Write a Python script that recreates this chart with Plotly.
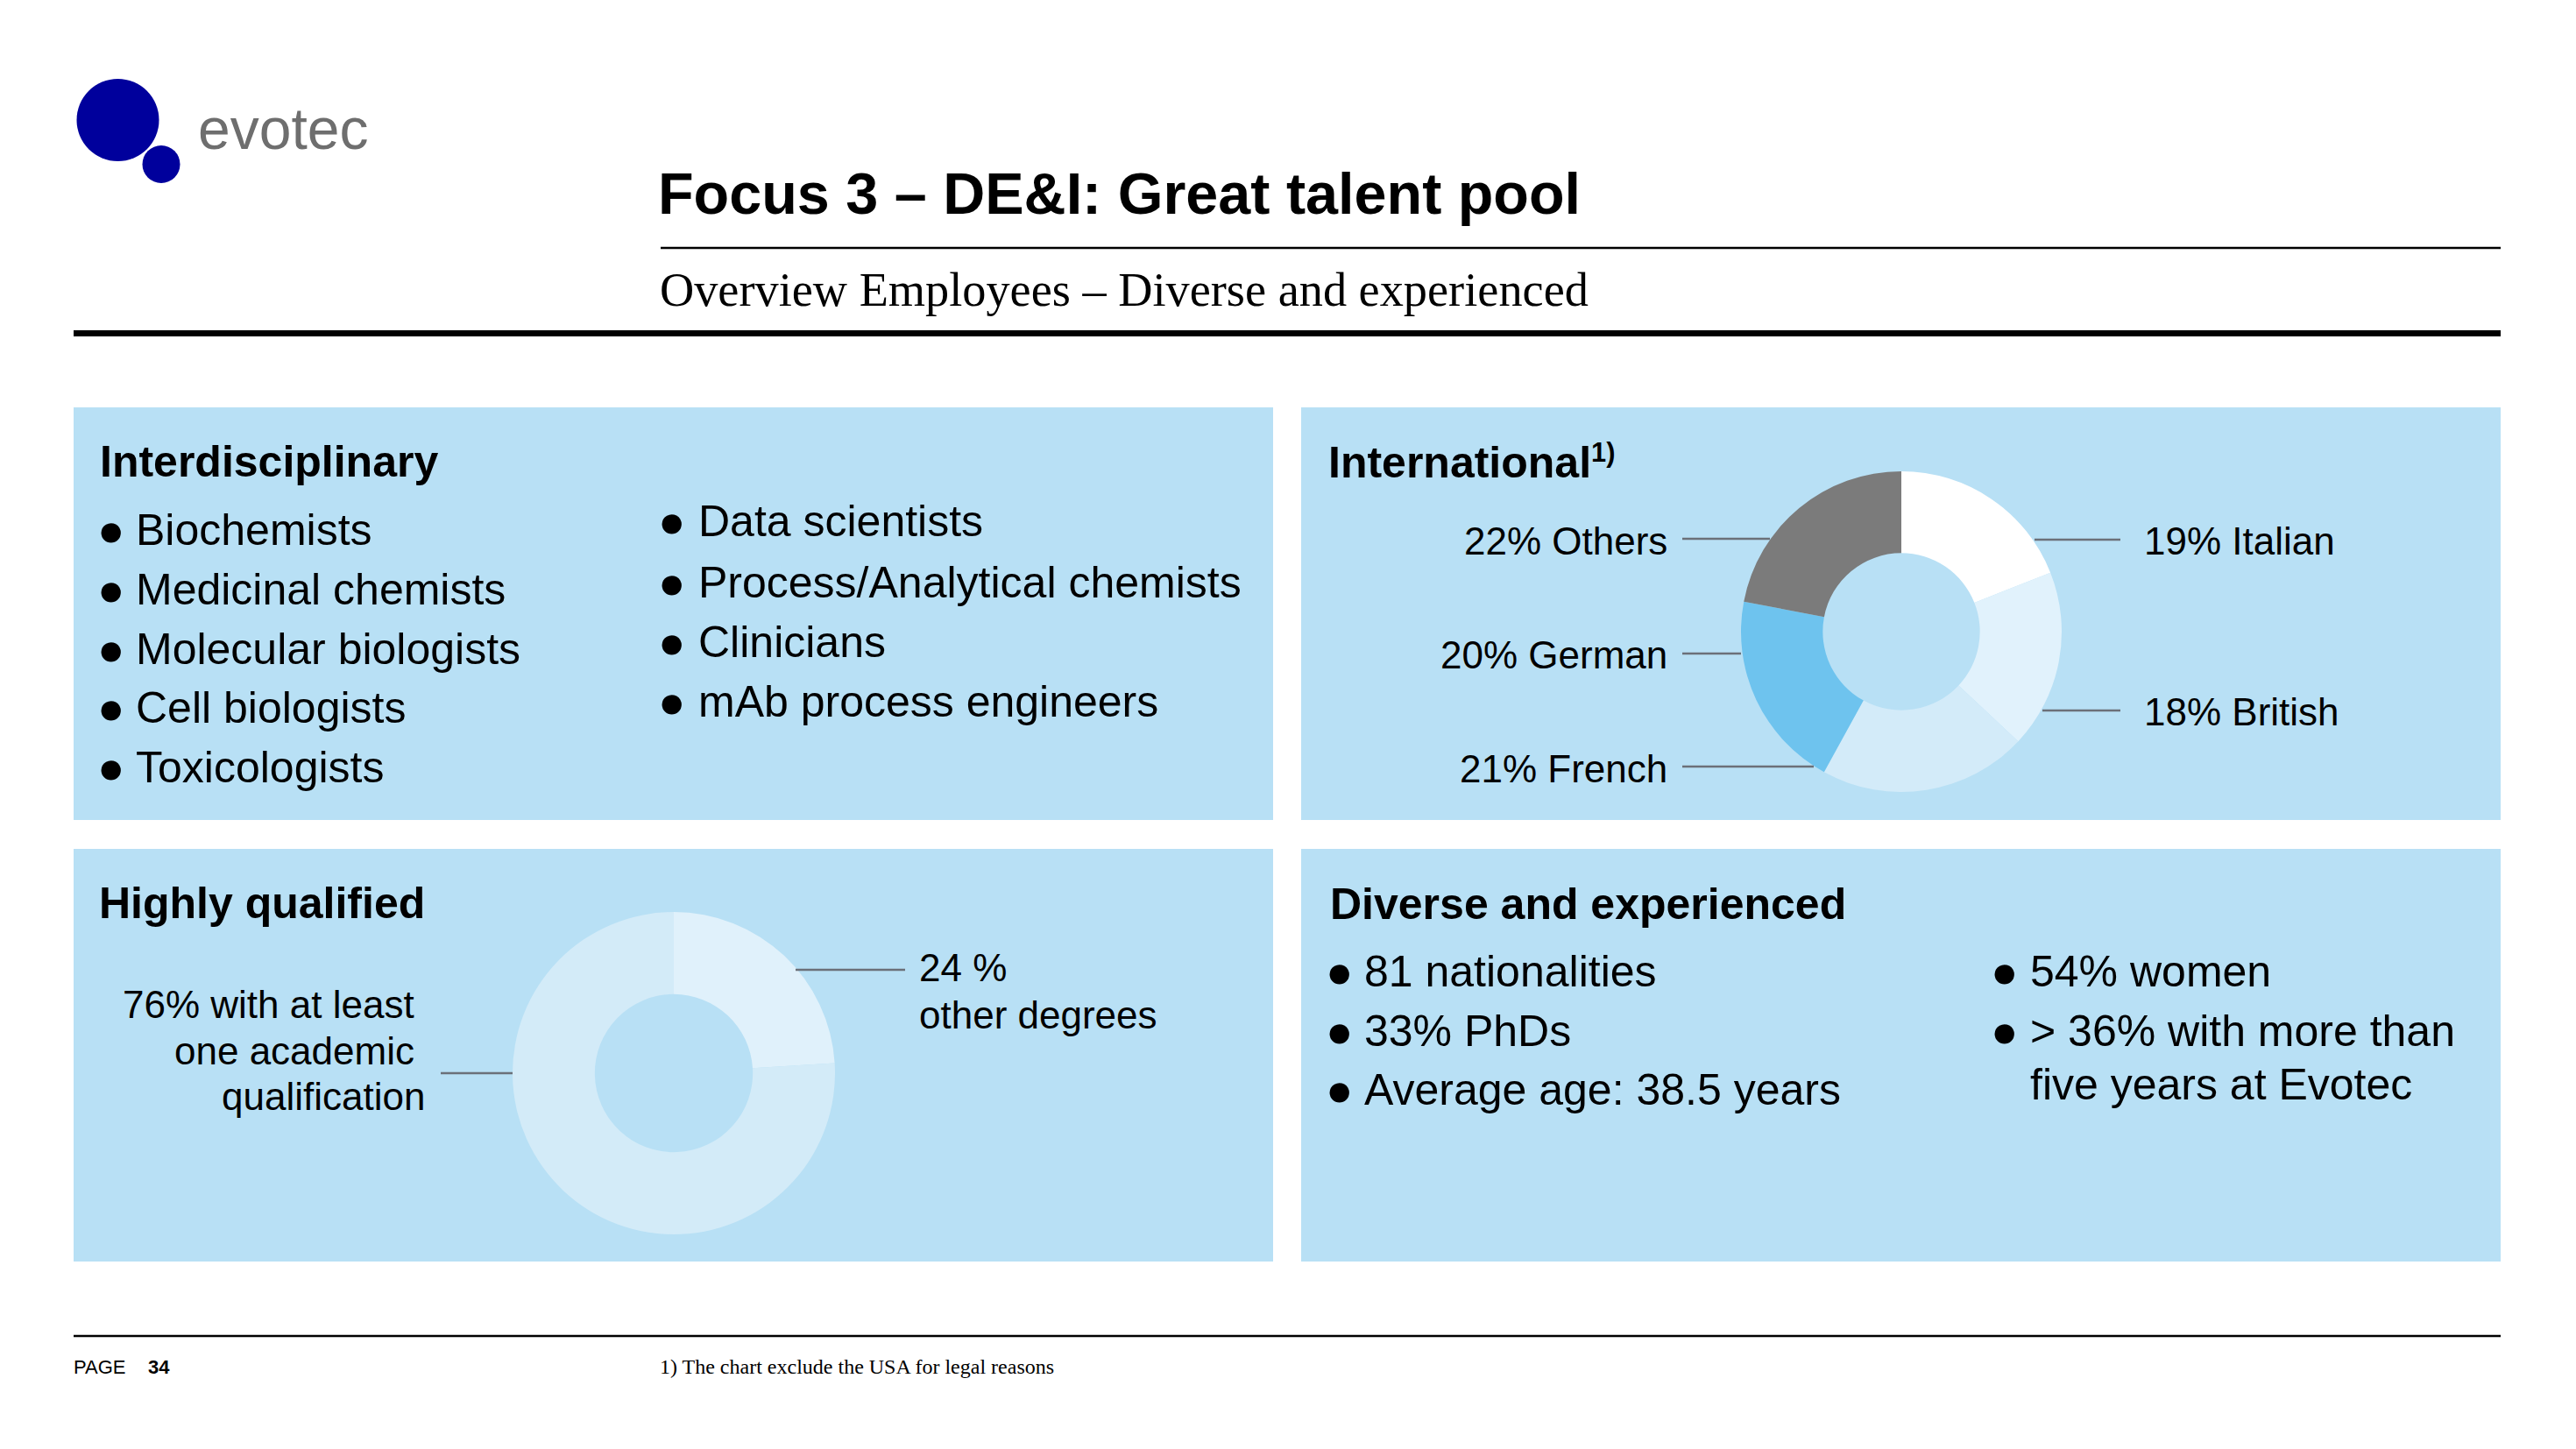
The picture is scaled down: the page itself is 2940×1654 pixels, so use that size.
import plotly.graph_objects as go

W, H = 2940, 1654

# ---------------- data ----------------
title_text = "Focus 3 – DE&I: Great talent pool"
subtitle_text = "Overview Employees – Diverse and experienced"
footnote_text = "1) The chart exclude the USA for legal reasons"
page_label = "PAGE"
page_number = "34"

interdisciplinary_left = ["Biochemists", "Medicinal chemists", "Molecular biologists",
                          "Cell biologists", "Toxicologists"]
interdisciplinary_right = ["Data scientists", "Process/Analytical chemists", "Clinicians",
                           "mAb process engineers"]

intl_labels = ["Italian", "British", "French", "German", "Others"]
intl_values = [19, 18, 21, 20, 22]
intl_colors = ["#FFFFFF", "#E1F2FC", "#D3EBF9", "#6EC3EE", "#7B7B7B"]

qual_labels = ["other degrees", "with at least one academic qualification"]
qual_values = [24, 76]
qual_colors = ["#E0F1FB", "#D3EBF8"]

diverse_left = ["81 nationalities", "33% PhDs", "Average age: 38.5 years"]
diverse_right = ["54% women", "> 36% with more than"]
diverse_right_cont = "five years at Evotec"

# ---------------- styling ----------------
SANS = "Liberation Sans, Arial, Helvetica, sans-serif"
SERIF = "Liberation Serif, Times New Roman, serif"
PANEL = "#B8E0F5"
LEADER = "#6B7079"
BLUE = "#00009C"

fig = go.Figure()


def px_dom(cx, cy, r):
    return dict(x=[(cx - r) / W, (cx + r) / W], y=[1 - (cy + r) / H, 1 - (cy - r) / H])


fig.add_trace(go.Pie(labels=intl_labels, values=intl_values, sort=False, direction="clockwise",
                     rotation=0, hole=0.49, marker=dict(colors=intl_colors, line=dict(width=0)),
                     textinfo="none", hoverinfo="label+percent", showlegend=False,
                     domain=px_dom(2170, 721, 183)))
fig.add_trace(go.Pie(labels=qual_labels, values=qual_values, sort=False, direction="clockwise",
                     rotation=0, hole=0.49, marker=dict(colors=qual_colors, line=dict(width=0)),
                     textinfo="none", hoverinfo="label+percent", showlegend=False,
                     domain=px_dom(769, 1225, 184)))

shapes = []
# panels
for (x0, y0, x1, y1) in [(84, 465, 1453, 936), (1485, 465, 2854, 936),
                         (84, 969, 1453, 1440), (1485, 969, 2854, 1440)]:
    shapes.append(dict(type="rect", xref="x", yref="y", x0=x0, y0=y0, x1=x1, y1=y1,
                       fillcolor=PANEL, line=dict(width=0), layer="below"))
# rules
shapes.append(dict(type="line", xref="x", yref="y", x0=754, x1=2854, y0=283, y1=283,
                   line=dict(color="black", width=2.5)))
shapes.append(dict(type="line", xref="x", yref="y", x0=84, x1=2854, y0=380.5, y1=380.5,
                   line=dict(color="black", width=7)))
shapes.append(dict(type="line", xref="x", yref="y", x0=84, x1=2854, y0=1525, y1=1525,
                   line=dict(color="black", width=2.5)))
# logo circles
shapes.append(dict(type="circle", xref="x", yref="y", x0=134.5 - 47, x1=134.5 + 47,
                   y0=137 - 47, y1=137 + 47, fillcolor=BLUE, line=dict(width=0)))
shapes.append(dict(type="circle", xref="x", yref="y", x0=184 - 21.5, x1=184 + 21.5,
                   y0=187.5 - 21.5, y1=187.5 + 21.5, fillcolor=BLUE, line=dict(width=0)))
# leader lines
for (x0, x1, y) in [(1920, 2020, 615), (1920, 1987, 746), (1920, 2070, 875),
                    (2322, 2420, 616), (2331, 2420, 811),
                    (908, 1033, 1107), (503, 585, 1225)]:
    shapes.append(dict(type="line", xref="x", yref="y", x0=x0, x1=x1, y0=y, y1=y,
                       line=dict(color=LEADER, width=2.5)))

ann = []


def txt(x, y, s, size, anchor="left", family=SANS, color="black"):
    ann.append(dict(x=x, y=y, xref="x", yref="y", text=s, showarrow=False,
                    xanchor=anchor, yanchor="middle", align=anchor,
                    font=dict(family=family, size=size, color=color)))


BODY = 50
BULLET_SIZE = 52


def bullet(xc, y):
    txt(xc, y, "●", BULLET_SIZE, anchor="center")


# logo text, title, subtitle
txt(224, 147, "evotec", 66, color="#6E6E6E")
txt(749, 221, "<b>" + title_text + "</b>", 66.5)
txt(751, 331, subtitle_text, 54.3, family=SERIF)

# headings
txt(112, 527, "<b>Interdisciplinary</b>", 50)
txt(1514, 527, "<b>International<span style='font-size:44px'><sup>1)</sup></span></b>", 50)
txt(111, 1031, "<b>Highly qualified</b>", 50)
txt(1516, 1032, "<b>Diverse and experienced</b>", 50)

# bullet lists
left_y = [605, 673, 741, 808, 876]
for yy, s in zip(left_y, interdisciplinary_left):
    bullet(126.5, yy)
    txt(153, yy, s, BODY)
right_y = [595, 665, 733, 801]
for yy, s in zip(right_y, interdisciplinary_right):
    bullet(766.5, yy)
    txt(795, yy, s, BODY)
dl_y = [1109, 1177, 1244]
for yy, s in zip(dl_y, diverse_left):
    bullet(1528.5, yy)
    txt(1555, yy, s, BODY)
dr_y = [1109, 1177]
for yy, s in zip(dr_y, diverse_right):
    bullet(2287.5, yy)
    txt(2315, yy, s, BODY)
txt(2315, 1238, diverse_right_cont, BODY)

# international pie labels
lab = {l: f"{v}% {l}" for l, v in zip(intl_labels, intl_values)}
txt(1905, 617, lab["Others"], 44, anchor="right")
txt(1905, 747, lab["German"], 44, anchor="right")
txt(1905, 877, lab["French"], 44, anchor="right")
txt(2445, 617, lab["Italian"], 44)
txt(2445, 812, lab["British"], 44)

# qualification labels
txt(1047, 1104, f"{qual_values[0]} %", 44)
txt(1047, 1158, qual_labels[0], 44)
txt(475, 1146, f"{qual_values[1]}% with at least", 44, anchor="right")
txt(475, 1199, "one academic", 44, anchor="right")
txt(487, 1251, "qualification", 44, anchor="right")

# footer
txt(82, 1560, page_label, 22)
txt(167, 1560, "<b>" + page_number + "</b>", 22)
txt(751, 1560, footnote_text, 24, family=SERIF)

fig.update_layout(
    width=W, height=H, margin=dict(l=0, r=0, t=0, b=0),
    paper_bgcolor="white", plot_bgcolor="rgba(0,0,0,0)",
    xaxis=dict(range=[0, W], visible=False, fixedrange=True),
    yaxis=dict(range=[H, 0], visible=False, fixedrange=True),
    shapes=shapes, annotations=ann, showlegend=False,
)

fig.write_html("out.html", config={"displayModeBar": False},
               post_script="document.body.style.margin='0';document.body.style.overflow='hidden';")
